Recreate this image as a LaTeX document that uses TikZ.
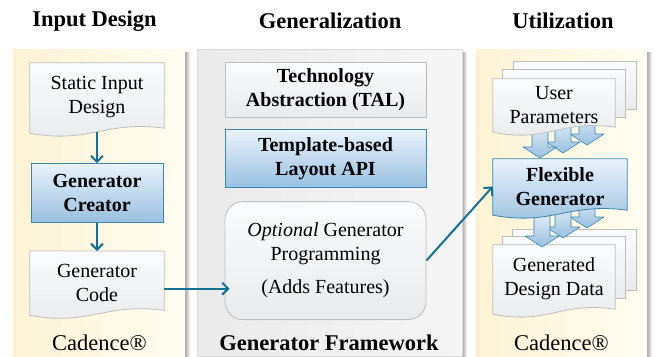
\documentclass[tikz,border=0pt]{standalone}
\usepackage{fontspec}
\setmainfont{Liberation Serif}
\usepackage{tikz}
\usetikzlibrary{positioning,calc,arrows.meta,backgrounds}

\definecolor{yelA}{HTML}{FDF3D4}
\definecolor{yelB}{HTML}{FFFDF2}
\definecolor{grA}{HTML}{EAEAEA}
\definecolor{grB}{HTML}{F5F5F5}
\definecolor{docA}{HTML}{FAFBFC}
\definecolor{docB}{HTML}{E8EAEC}
\definecolor{docE}{HTML}{BEBEBE}
\definecolor{bluA}{HTML}{EAF2FB}
\definecolor{bluB}{HTML}{98C0E0}
\definecolor{bluE}{HTML}{3C87AB}
\definecolor{arrc}{HTML}{17708F}

% page outline with a wavy bottom, behind node #2
\newcommand{\docshape}[2]{%
  \begin{pgfonlayer}{background}
  \path[#1] (#2.north west) -- (#2.north east) -- ([yshift=4pt]#2.south east)
    .. controls ($(#2.south west)!0.55!(#2.south east)+(0,12)$) and ($(#2.south west)!0.45!(#2.south east)+(0,-12)$) .. ([yshift=-1pt]#2.south west) -- cycle;
  \end{pgfonlayer}}
% fat arrow pointing down, tip at #1
\newcommand{\blockarr}[1]{\path[blk] (#1) -- ++(-17,11) -- ++(9,0) -- ++(0,26) -- ++(16,0) -- ++(0,-26) -- ++(9,0) -- cycle;}

\begin{document}
\begin{tikzpicture}[x=1pt, y=1pt,
    head/.style={font=\fontsize{22.5}{27}\selectfont\bfseries},
    foot/.style={font=\fontsize{22.5}{27}\selectfont},
    txt/.style={font=\fontsize{20}{24}\selectfont, align=center, inner sep=0pt},
    bf/.style={txt, font=\fontsize{20}{24}\selectfont\bfseries},
    doc/.style={draw=docE, line width=0.8pt, top color=docA, bottom color=docB},
    blu/.style={draw=bluE, line width=0.8pt, top color=bluA, bottom color=bluB},
    blk/.style={blu, line width=0.6pt, line join=round},
    msg/.style={draw=arrc, line width=2pt, -{Straight Barb[length=6pt,width=12pt]}}]
    \useasboundingbox (0,0) rectangle (655,-356);

    % panels
    \begin{pgfonlayer}{background}
    \fill[left color=black!35, right color=white] (185,-52) rectangle (190,-356);
    \fill[left color=black!35, right color=white] (462,-52) rectangle (467,-356);
    \fill[left color=black!35, right color=white] (647,-52) rectangle (652,-356);
    \fill[left color=yelA, right color=yelB] (13,-49) rectangle (185,-356);
    \path[draw=black!15, left color=grA, right color=grB] (197,-49) rectangle (462,-356);
    \fill[left color=yelA, right color=yelB] (476,-49) rectangle (647,-356);
    \end{pgfonlayer}

    \node[head] (t1) at (94.5,-21) {Input Design};
    \node[head] (t2) at (330,-21) {Generalization};
    \node[head] (t3) at (563,-21) {Utilization};

    % input design
    \node[txt, minimum width=134pt, minimum height=69pt] (sid) at (97,-97.5) {Static Input\\Design};
    \node[bf, blu, minimum width=132pt, minimum height=59pt, below=31pt of sid] (gcr) {Generator\\Creator};
    \node[txt, minimum width=134pt, minimum height=63pt, below=28pt of gcr] (gcode) {Generator\\Code};
    \docshape{doc}{sid}
    \docshape{doc}{gcode}

    % generalization
    \node[bf, doc, minimum width=201pt, minimum height=55pt] (tal) at (325.5,-89.5) {Technology\\Abstraction (TAL)};
    \node[bf, blu, minimum width=201pt, minimum height=58pt, below=12pt of tal] (tpl) {Template-based\\Layout API};
    \node[txt, doc, rounded corners=18pt, minimum width=201pt, minimum height=118pt, below=13pt of tpl] (opt) {\textit{Optional} Generator\\Programming\\[9pt](Adds Features)};

    % utilization
    \node[txt, minimum width=122pt, minimum height=52pt] (up) at (554,-105) {User\\Parameters};
    \node[bf, minimum width=134pt, minimum height=55pt] (flex) at (560,-186.5) {Flexible\\Generator};
    \node[txt, minimum width=122pt, minimum height=68pt] (gd) at (554,-279) {Generated\\Design Data};

    \begin{pgfonlayer}{background}
    \path[doc] ([shift={(21,17)}]up.north west) rectangle ([shift={(21,22)}]up.south east);
    \path[doc] ([shift={(10,9)}]up.north west) rectangle ([shift={(10,14)}]up.south east);
    \foreach \x/\y in {587/145, 563/153, 540/158} {\blockarr{\x,-\y}}
    \end{pgfonlayer}
    \docshape{doc}{up}

    \begin{pgfonlayer}{background}
    \path[doc] ([shift={(20,15)}]gd.north west) rectangle ([shift={(21,23)}]gd.south east);
    \path[doc] ([shift={(10,8)}]gd.north west) rectangle ([shift={(10,15)}]gd.south east);
    \end{pgfonlayer}
    \docshape{doc}{gd}
    \begin{pgfonlayer}{background}
    \foreach \x/\y in {587/228, 563/238, 542/247} {\blockarr{\x,-\y}}
    \end{pgfonlayer}
    \docshape{blu}{flex}

    \node[foot] (c1) at (99.5,-343) {Cadence®};
    \node[foot] (c2) at (329,-343) {\bfseries Generator Framework};
    \node[foot] (c3) at (561.5,-343) {Cadence®};

    \path (sid.south) edge[msg] (gcr.north);
    \path (gcr.south) edge[msg] (gcode.north);
    \path ([yshift=-6pt]gcode.east) edge[msg, shorten >=-5pt] ([yshift=-6pt]gcode.east -| opt.west);
    \path (opt.east) edge[msg] (flex.west);
\end{tikzpicture}
\end{document}
